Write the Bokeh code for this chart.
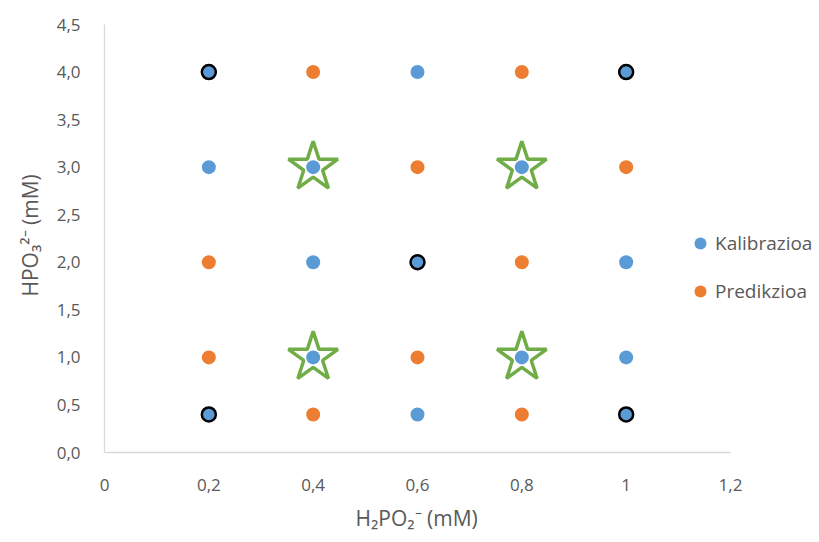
from bokeh.plotting import figure
from bokeh.models import FixedTicker, Legend, LegendItem, Title
from bokeh.embed import file_html
from bokeh.resources import INLINE

# Data
kal_x = [0.2, 0.6, 1.0, 0.2, 0.4, 0.8, 0.4, 0.6, 1.0, 0.4, 0.8, 1.0, 0.2, 0.6, 1.0]
kal_y = [4.0, 4.0, 4.0, 3.0, 3.0, 3.0, 2.0, 2.0, 2.0, 1.0, 1.0, 1.0, 0.4, 0.4, 0.4]
pred_x = [0.4, 0.8, 0.6, 1.0, 0.2, 0.8, 0.2, 0.6, 0.4, 0.8]
pred_y = [4.0, 4.0, 3.0, 3.0, 2.0, 2.0, 1.0, 1.0, 0.4, 0.4]
ring_x = [0.2, 1.0, 0.6, 0.2, 1.0]
ring_y = [4.0, 4.0, 2.0, 0.4, 0.4]
star_x = [0.4, 0.8, 0.4, 0.8]
star_y = [3.0, 3.0, 1.0, 1.0]

x_ticks = [0, 0.2, 0.4, 0.6, 0.8, 1.0, 1.2]
x_tick_labels = ["0", "0,2", "0,4", "0,6", "0,8", "1", "1,2"]
y_ticks = [0, 0.5, 1.0, 1.5, 2.0, 2.5, 3.0, 3.5, 4.0, 4.5]
y_tick_labels = ["0,0", "0,5", "1,0", "1,5", "2,0", "2,5", "3,0", "3,5", "4,0", "4,5"]

series_names = ["Kalibrazioa", "Predikzioa"]
x_title = "H₂PO₂⁻ (mM)"
y_title = "HPO₃²⁻ (mM)"

BLUE = "#5b9bd5"
ORANGE = "#ed7d31"
GREEN = "#70ad47"
TXT = "#595959"
FONT = "Open Sans"

# axis runs 0..1.2 over 626 px; frame extended to the right to hold the legend
FRAME_W = 711
X_END = 1.2 * FRAME_W / 626

p = figure(width=815, height=540, output_backend="svg", toolbar_location=None,
           x_range=(0, X_END), y_range=(0, 4.5),
           min_border_left=104, min_border_right=0, min_border_top=24, min_border_bottom=88)
p.outline_line_color = None
p.grid.grid_line_color = None
p.background_fill_color = "white"

r_kal = p.scatter(kal_x, kal_y, size=14, fill_color=BLUE, line_color=None)
r_pred = p.scatter(pred_x, pred_y, size=14, fill_color=ORANGE, line_color=None)
p.scatter(ring_x, ring_y, size=14, fill_color=BLUE, line_color="black", line_width=2.5)
p.scatter(star_x, star_y, marker="star", size=52, fill_color=None, line_color=GREEN, line_width=3.5)

for ax, ticks, labels in ((p.xaxis[0], x_ticks, x_tick_labels), (p.yaxis[0], y_ticks, y_tick_labels)):
    ax.ticker = FixedTicker(ticks=ticks)
    ax.major_label_overrides = {t: l for t, l in zip(ticks, labels)}
    ax.major_tick_out = 0
    ax.major_tick_in = 0
    ax.minor_tick_out = 0
    ax.minor_tick_in = 0
    ax.axis_line_color = "#d9d9d9"
    ax.axis_line_width = 1.3
    ax.major_label_text_color = TXT
    ax.major_label_text_font = FONT
    ax.major_label_text_font_size = "17px"

p.xaxis[0].bounds = (0, 1.2)
p.xaxis[0].major_label_standoff = 26
p.yaxis[0].major_label_standoff = 24

# axis titles as side titles so they can be positioned like the reference
xt = Title(text=x_title, align="left", offset=251, text_font=FONT, text_font_size="21px",
           text_color=TXT, text_font_style="normal", standoff=17)
yt = Title(text=y_title, align="left", offset=156, text_font=FONT, text_font_size="21px",
           text_color=TXT, text_font_style="normal", standoff=18, vertical_align="middle")
p.add_layout(xt, "below")
p.add_layout(yt, "left")

legend = Legend(items=[LegendItem(label=series_names[0], renderers=[r_kal]),
                       LegendItem(label=series_names[1], renderers=[r_pred])],
                location=(581, 146), orientation="vertical")
legend.background_fill_alpha = 0
legend.border_line_color = None
legend.label_text_font = FONT
legend.label_text_font_size = "19px"
legend.label_text_color = TXT
legend.glyph_width = 30
legend.glyph_height = 30
legend.spacing = 18
legend.label_standoff = 0
p.add_layout(legend, "center")

open("out.html", "w").write(file_html(p, INLINE))
